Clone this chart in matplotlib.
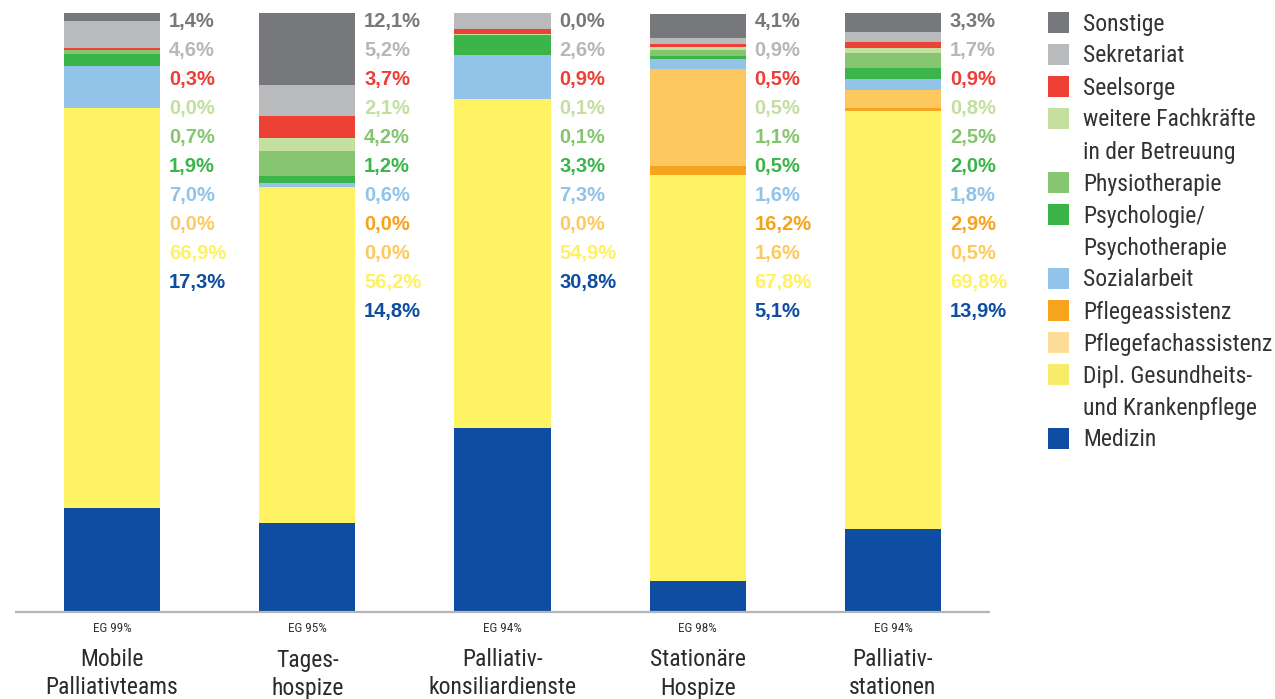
import matplotlib
matplotlib.use("Agg")
import matplotlib.pyplot as plt
from matplotlib.patches import Rectangle

# Categories (x axis)
settings = ["Mobile\nPalliativteams", "Tages-\nhospize", "Palliativ-\nkonsiliardienste",
            "Stationäre\nHospize", "Palliativ-\nstationen"]
eg_labels = ["EG 99%", "EG 95%", "EG 94%", "EG 98%", "EG 94%"]

# Shares per profession (%), None = not reported
sonstige = [1.4, 12.1, 0.0, 4.1, 3.3]
sekretariat = [4.6, 5.2, 2.6, 0.9, 1.7]
seelsorge = [0.3, 3.7, 0.9, 0.5, 0.9]
weitere = [0.0, 2.1, 0.1, 0.5, 0.8]
physio = [0.7, 4.2, 0.1, 1.1, 2.5]
psycho = [1.9, 1.2, 3.3, 0.5, 2.0]
sozial = [7.0, 0.6, 7.3, 1.6, 1.8]
pflegeass = [None, 0.0, None, 16.2, 2.9]
pflegefach = [0.0, 0.0, 0.0, 1.6, 0.5]
dgkp = [66.9, 56.2, 54.9, 67.8, 69.8]
medizin = [17.3, 14.8, 30.8, 5.1, 13.9]

legend_names = ["Sonstige", "Sekretariat", "Seelsorge", "weitere Fachkräfte\nin der Betreuung",
                "Physiotherapie", "Psychologie/\nPsychotherapie", "Sozialarbeit", "Pflegeassistenz",
                "Pflegefachassistenz", "Dipl. Gesundheits-\nund Krankenpflege", "Medizin"]

# order top -> bottom (legend / label order)
series = [sonstige, sekretariat, seelsorge, weitere, physio, psycho, sozial,
          pflegeass, pflegefach, dgkp, medizin]
label_colors = ["#76787b", "#b5b7b8", "#ee3e36", "#c3df9e", "#86c56f", "#3ab54a",
                "#90c3e8", "#f7a21b", "#fdc960", "#fef162", "#0e4da0"]
legend_colors = ["#76787b", "#b8babb", "#ee4136", "#c5dfa0", "#87c670", "#3bb54a",
                 "#91c4e8", "#f6a31e", "#fedc9a", "#f6ec69", "#0e4da1"]
# the source draws the two orange segments with swapped shades
bar_colors = list(legend_colors)
bar_colors[7], bar_colors[8] = "#fdc95f", "#f6a31e"
bar_colors[9] = "#fff263"

W, H = 1275, 699
fig = plt.figure(figsize=(W / 100, H / 100), dpi=100)
fig.patch.set_facecolor("white")

base_px, top_px, x0_px, x1_px = 612, 13, 15, 990
ax = fig.add_axes([x0_px / W, (H - base_px) / H, (x1_px - x0_px) / W, (base_px - top_px) / H])
unit = 195.25
xmin = -(112 - x0_px) / unit
ax.set_xlim(xmin, xmin + (x1_px - x0_px) / unit)
ax.set_ylim(0, 100)
ax.axis("off")

num_font = ["Liberation Sans", "DejaVu Sans"]
cond_font = ["Roboto Condensed", "Roboto", "DejaVu Sans"]
px = 100 / (base_px - top_px)  # data units per pixel

for i in range(len(settings)):
    bottom = 0.0
    for k in range(len(series) - 1, -1, -1):
        v = series[k][i]
        if v is None:
            continue
        ax.bar(i, v, bottom=bottom, width=96 / unit, color=bar_colors[k], linewidth=0)
        bottom += v
    row = 0
    for k in range(len(series)):
        v = series[k][i]
        if v is None:
            continue
        ypx = 22 + 28.9 * row
        ax.text(i + 57 / unit, (base_px - ypx) * px, f"{v:.1f}%".replace(".", ","),
                color=label_colors[k], fontsize=14.5, fontweight="bold", family=num_font,
                ha="left", va="center", clip_on=False)
        row += 1
    ax.text(i, (base_px - 628) * px, eg_labels[i], fontsize=9.5, color="#333333",
            family=cond_font, ha="center", va="center", clip_on=False)
    for j, line in enumerate(settings[i].split("\n")):
        ax.text(i, (base_px - 660 - 28 * j) * px, line, fontsize=17, color="#2b2b2b",
                family=cond_font, ha="center", va="center", clip_on=False)

ax.plot([xmin, xmin + (x1_px - x0_px) / unit], [0, 0], color="#b3b5b6", lw=1.6,
        clip_on=False, solid_capstyle="butt")

# legend drawn in pixel coordinates
lax = fig.add_axes([0, 0, 1, 1])
lax.set_xlim(0, W)
lax.set_ylim(H, 0)
lax.axis("off")
ypx = 22.5
for name, col in zip(legend_names, legend_colors):
    lax.add_patch(Rectangle((1048, ypx - 10.5), 21, 21, color=col, lw=0))
    lines = name.split("\n")
    for j, line in enumerate(lines):
        lax.text(1083, ypx + 1.5 + 32 * j, line, fontsize=17, color="#333333",
                 family=cond_font, ha="left", va="center")
    ypx += 32 * len(lines)

fig.savefig("out.png", dpi=100, facecolor="white")
